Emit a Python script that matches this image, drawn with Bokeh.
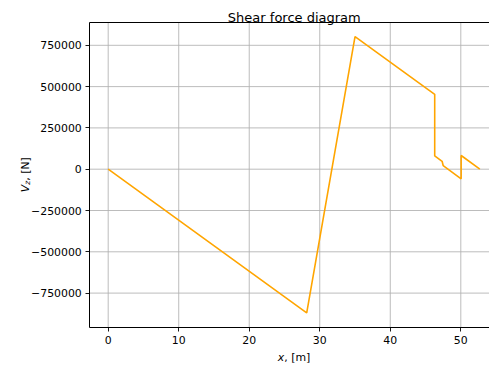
import math
from bokeh.plotting import figure
from bokeh.models import Range1d, FixedTicker, LinearAxis, Label
from bokeh.embed import file_html
from bokeh.resources import INLINE

# ---- data ----
x_m = [0.0, 28.15, 35.0, 46.3, 46.3, 47.35, 47.5, 50.05, 50.05, 52.7]
shear_N = [0, -870000, 802000, 453000, 81000, 48000, 22000, -58000, 83000, 0]

x_ticks = [0, 10, 20, 30, 40, 50]
x_tick_labels = ["0", "10", "20", "30", "40", "50"]
y_ticks = [-750000, -500000, -250000, 0, 250000, 500000, 750000]
y_tick_labels = ["\u2212750000", "\u2212500000", "\u2212250000", "0", "250000", "500000", "750000"]

title_text = "Shear force diagram"
xlabel_var, xlabel_rest = "x", ", [m]"
ylabel_var, ylabel_sub, ylabel_rest = "V", "z", ", [N]"

# ---- layout (pixel geometry of the reference) ----
W, H = 489, 367
PX_PER_X = 7.052            # px per metre
X_ZERO_PX = 107.7           # px of x = 0
PX_PER_N = 41.3 / 250000    # px per newton
Y_ZERO_PX = 168.7           # px of V = 0
FONT = "DejaVu Sans"
TICK_FS = "10.9px"


def dx(px):
    return (px - X_ZERO_PX) / PX_PER_X


def dy(py):
    return (Y_ZERO_PX - py) / PX_PER_N


# axes box (spines) of the reference, in data units
XL, XR = dx(89.3), dx(W)
YT, YB = dy(22.3), dy(326.7)

# the whole canvas is the frame; the axes are placed at the spine locations
p = figure(width=W, height=H, output_backend="svg", toolbar_location=None,
           title=None,
           x_range=Range1d(dx(0), dx(W)), y_range=Range1d(dy(H), dy(0)),
           min_border_left=0, min_border_right=0, min_border_top=0, min_border_bottom=0,
           x_axis_type=None, y_axis_type=None)
p.xgrid.visible = False
p.ygrid.visible = False
p.outline_line_color = None
p.background_fill_color = "white"
p.border_fill_color = "white"


def style_axis(ax, ticks, labels, standoff):
    ax.ticker = FixedTicker(ticks=ticks)
    if labels is not None:
        ax.major_label_overrides = {t: l for t, l in zip(ticks, labels)}
    ax.axis_line_color = "black"
    ax.axis_line_width = 1
    ax.major_tick_line_color = "black"
    ax.major_tick_line_width = 0.9
    ax.major_tick_in = 0
    ax.major_tick_out = 4
    ax.minor_tick_line_color = None
    ax.minor_tick_out = 0
    ax.major_label_text_font = FONT
    ax.major_label_text_font_size = TICK_FS
    ax.major_label_text_color = "black"
    ax.major_label_standoff = standoff


xa = LinearAxis(fixed_location=YB, bounds=(XL, XR))
style_axis(xa, x_ticks, x_tick_labels, 5)
p.add_layout(xa, "below")

ya = LinearAxis(fixed_location=XL, bounds=(YB, YT))
style_axis(ya, y_ticks, y_tick_labels, 4)
p.add_layout(ya, "left")

top = LinearAxis(fixed_location=YT, bounds=(XL, XR))
style_axis(top, [], None, 0)
top.major_tick_out = 0
top.major_label_text_font_size = "0px"
p.add_layout(top, "above")

# grid lines at the tick positions, limited to the axes box
GRID = "#b0b0b0"
p.segment(x0=x_ticks, y0=[YB] * len(x_ticks), x1=x_ticks, y1=[YT] * len(x_ticks),
          line_color=GRID, line_width=0.85)
p.segment(x0=[XL] * len(y_ticks), y0=y_ticks, x1=[XR] * len(y_ticks), y1=y_ticks,
          line_color=GRID, line_width=0.85)

p.line(x_m, shear_N, line_color="#FFA500", line_width=1.6)


def lab(px, py, text, **kw):
    kw.setdefault("text_font", FONT)
    kw.setdefault("text_font_size", TICK_FS)
    kw.setdefault("text_align", "left")
    kw.setdefault("text_baseline", "alphabetic")
    kw.setdefault("text_color", "black")
    p.add_layout(Label(x=dx(px), y=dy(py), text=text, **kw))


# title
lab(293.8, 16.7, title_text, text_font_size="13px", text_align="center")

# x label
lab(277.3, 356.7, xlabel_var, text_font_style="italic")
lab(277.3 + 6.45, 356.7, xlabel_rest)

# y label (rotated)
ang = math.pi / 2
lab(24.5, 191.7, ylabel_var, text_font_style="italic", angle=ang)
lab(26.8, 184.2, ylabel_sub, text_font_style="italic", text_font_size="7.6px", angle=ang)
lab(24.5, 180.2, ylabel_rest, angle=ang)

open("out.html", "w").write(file_html(p, INLINE))
